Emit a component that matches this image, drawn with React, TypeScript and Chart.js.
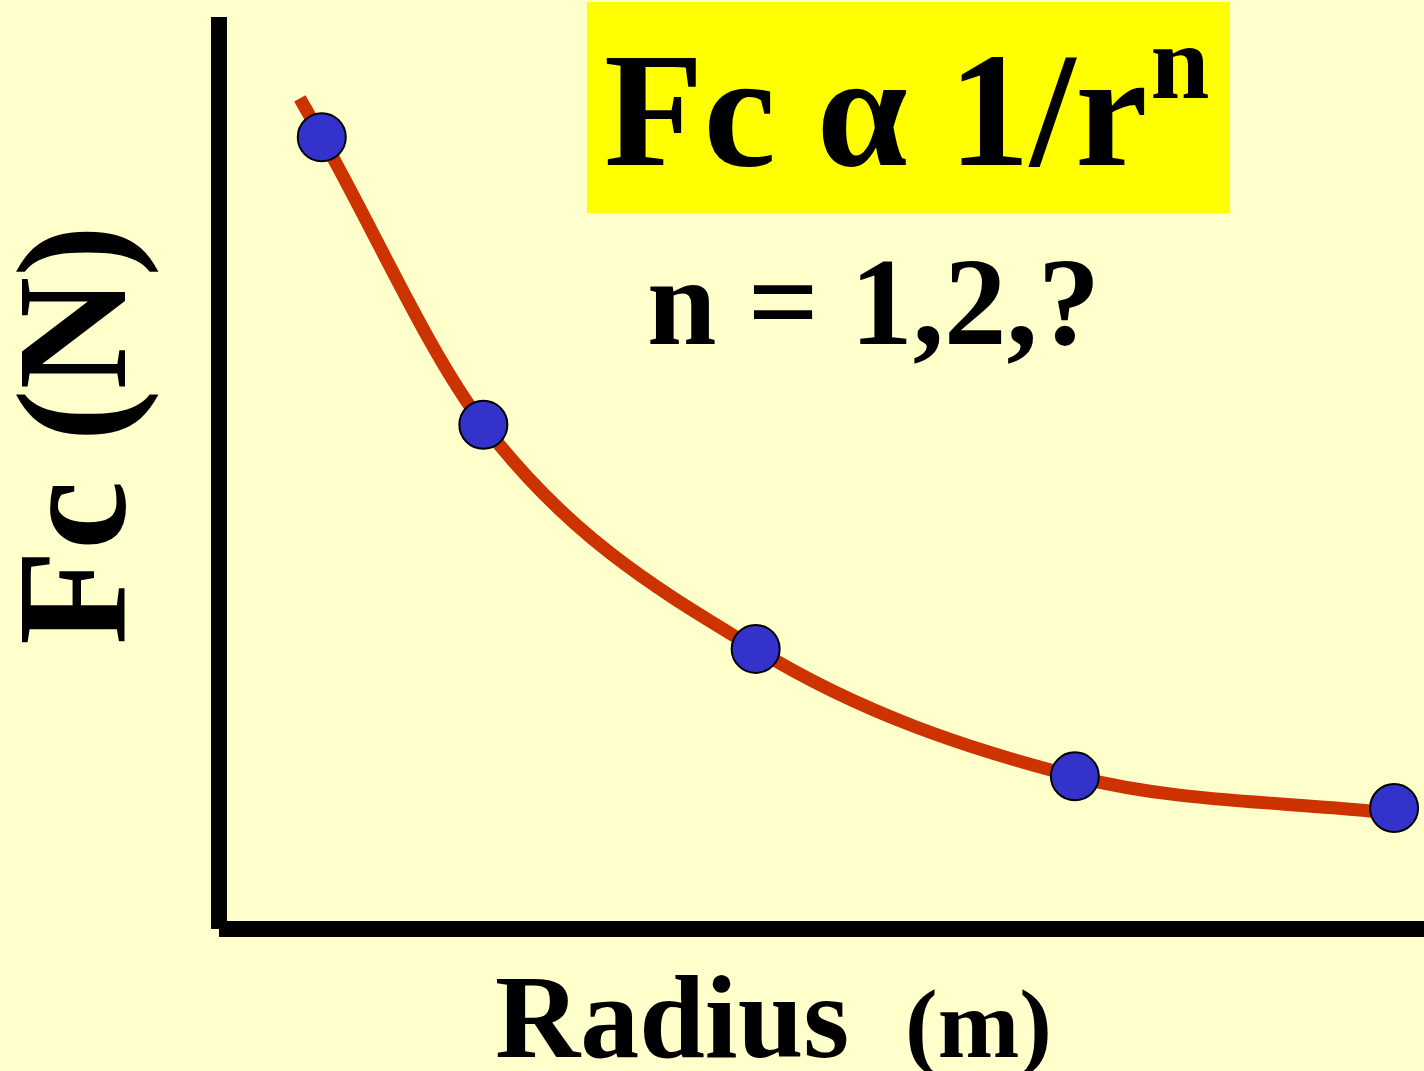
import React, { useEffect, useRef } from "react";
import { Chart, registerables } from "chart.js";

Chart.register(...registerables);

// Measured points (radius in arbitrary units, force in arbitrary units)
const radius = [0.95, 2.57, 5.3, 8.5, 11.7];
const force = [8.67, 5.49, 3.01, 1.6, 1.25];

// Hand-drawn fitted curve through the points (starts a bit before the first point)
const curveRadius = [0.73, 0.95, 2.57, 5.3, 8.5, 11.7];
const curveForce = [9.1, 8.67, 5.49, 3.01, 1.6, 1.19];

const xRange = [0, 12];
const yRange = [0, 10];

const titleMain = "Fc α 1/r";
const titleSup = "n";
const subtitle = "n = 1,2,?";
const yTitle = "Fc (N)";
const xTitle = "Radius";
const xUnit = "(m)";

const FONT = '"Liberation Serif", "Times New Roman", serif';

const decoPlugin = {
  id: "deco",
  beforeDraw(chart: any) {
    const { ctx, chartArea: a, width, height } = chart;
    ctx.save();
    ctx.fillStyle = "#FFFFCC";
    ctx.fillRect(0, 0, width, height);

    // highlighted formula box
    ctx.fillStyle = "#FFFF00";
    ctx.fillRect(587, 2, 643, 211);

    ctx.fillStyle = "#000000";
    ctx.textAlign = "left";
    ctx.textBaseline = "alphabetic";
    ctx.font = `bold 163px ${FONT}`;
    ctx.fillText(titleMain, 604, 165);
    const w = ctx.measureText(titleMain).width;
    ctx.font = `bold 106px ${FONT}`;
    ctx.fillText(titleSup, 604 + w + 3, 98);

    ctx.font = `bold 125px ${FONT}`;
    ctx.fillText(subtitle, 647, 344);

    // x title
    ctx.font = `bold 118px ${FONT}`;
    ctx.fillText(xTitle, 495, 1057);
    ctx.font = `bold 98px ${FONT}`;
    ctx.fillText(xUnit, 905, 1057);

    // y title (rotated)
    ctx.save();
    ctx.translate(125, 645);
    ctx.rotate(-Math.PI / 2);
    ctx.font = `bold 156px ${FONT}`;
    ctx.fillText(yTitle, 0, 0);
    ctx.restore();

    // axes
    ctx.fillStyle = "#000000";
    ctx.fillRect(a.left - 16, a.top, 16, a.bottom - a.top + 8);
    ctx.fillRect(a.left - 8, a.bottom, width - (a.left - 8), 16);
    ctx.restore();
  },
};

export default function App() {
  const ref = useRef<HTMLCanvasElement | null>(null);

  useEffect(() => {
    if (!ref.current) return;
    const chart = new Chart(ref.current, {
      type: "scatter",
      data: {
        datasets: [
          {
            label: "points",
            data: radius.map((r, i) => ({ x: r, y: force[i] })),
            backgroundColor: "#3333CC",
            borderColor: "#000000",
            borderWidth: 2,
            pointRadius: 24,
            pointHoverRadius: 24,
            showLine: false,
            order: 0,
          } as any,
          {
            label: "curve",
            data: curveRadius.map((r, i) => ({ x: r, y: curveForce[i] })),
            borderColor: "#CC3300",
            backgroundColor: "#CC3300",
            borderWidth: 13,
            borderCapStyle: "butt",
            pointRadius: 0,
            showLine: true,
            cubicInterpolationMode: "monotone",
            order: 1,
          } as any,
        ],
      },
      options: {
        responsive: false,
        animation: false,
        layout: { autoPadding: false, padding: { left: 227, top: 17, right: 0, bottom: 150 } } as any,
        plugins: {
          legend: { display: false },
          tooltip: { enabled: false },
          title: { display: false },
        },
        scales: {
          x: { type: "linear", min: xRange[0], max: xRange[1], display: false },
          y: { type: "linear", min: yRange[0], max: yRange[1], display: false },
        },
        clip: false as any,
      },
      plugins: [decoPlugin],
    });
    return () => chart.destroy();
  }, []);

  return (
    <div style={{ position: "absolute", left: 0, top: 0, width: 1424, height: 1071, background: "#FFFFCC" }}>
      <canvas ref={ref} width={1424} height={1071} style={{ display: "block" }} />
    </div>
  );
}
